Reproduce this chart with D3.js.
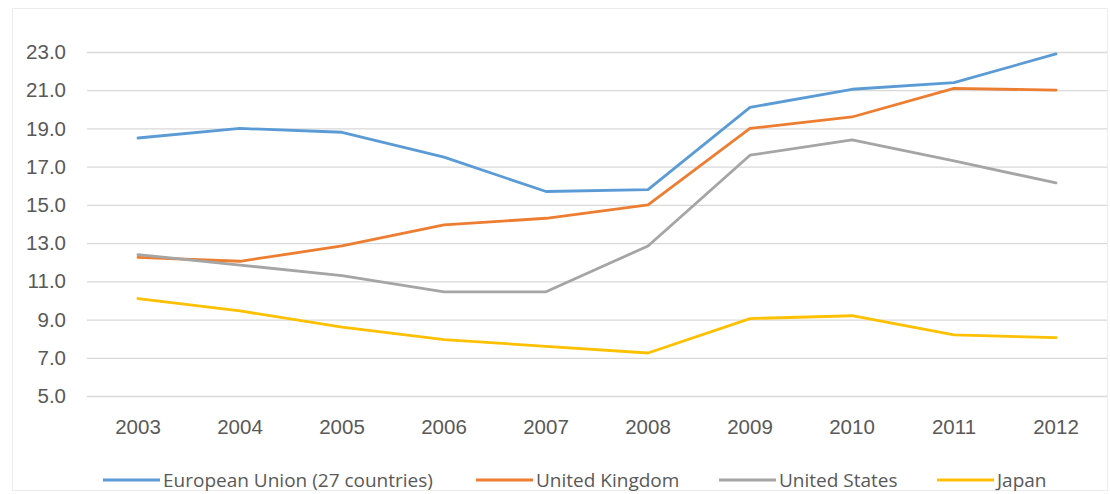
<!DOCTYPE html>
<html>
<head>
<meta charset="utf-8">
<script src="https://cdn.jsdelivr.net/npm/d3@7"></script>
<style>
  html, body { margin: 0; padding: 0; background: #fff; }
  svg { display: block; font-family: "Open Sans", Lato, sans-serif; }
</style>
</head>
<body>
<svg id="chart" width="1110" height="494"></svg>
<script>
const years = ["2003","2004","2005","2006","2007","2008","2009","2010","2011","2012"];
const euValues = [18.5, 19.0, 18.8, 17.5, 15.7, 15.8, 20.1, 21.05, 21.4, 22.9];
const ukValues = [12.25, 12.05, 12.85, 13.95, 14.3, 15.0, 19.0, 19.6, 21.1, 21.0];
const usValues = [12.4, 11.85, 11.3, 10.45, 10.45, 12.85, 17.6, 18.4, 17.3, 16.15];
const jpValues = [10.1, 9.45, 8.6, 7.95, 7.6, 7.25, 9.05, 9.2, 8.2, 8.05];
const seriesNames = ["European Union (27 countries)", "United Kingdom", "United States", "Japan"];
const seriesColors = ["#5B9BD5", "#ED7D31", "#A5A5A5", "#FFC000"];
const yTicks = [5, 7, 9, 11, 13, 15, 17, 19, 21, 23];

const series = [euValues, ukValues, usValues, jpValues].map((v, i) => ({
  name: seriesNames[i], color: seriesColors[i], values: v
}));

const svg = d3.select("#chart");

// chart frame
svg.append("rect")
  .attr("x", 12.5).attr("y", 8.5).attr("width", 1095).attr("height", 482)
  .attr("fill", "none").attr("stroke", "#ececec").attr("stroke-width", 1);

const plot = { left: 87, right: 1107, top: 52, bottom: 396 };

const x = d3.scaleBand().domain(years).range([plot.left, plot.right]);
const y = d3.scaleLinear().domain([5, 23]).range([plot.bottom, plot.top]);

// horizontal gridlines + y labels
const yAxis = d3.axisLeft(y).tickValues(yTicks).tickFormat(d3.format(".1f"))
  .tickSize(-(plot.right - plot.left)).tickPadding(21);
const gy = svg.append("g").attr("transform", `translate(${plot.left},0)`).call(yAxis);
gy.select(".domain").remove();
gy.selectAll(".tick line").attr("stroke", "#d9d9d9").attr("stroke-width", 1.3);
gy.selectAll(".tick text").attr("fill", "#595959").attr("font-size", 20.5);

// x labels
const xAxis = d3.axisBottom(x).tickSize(0).tickPadding(23);
const gx = svg.append("g").attr("transform", `translate(0,${plot.bottom})`).call(xAxis);
gx.select(".domain").remove();
gx.selectAll(".tick text").attr("fill", "#595959").attr("font-size", 20.5);

const line = d3.line()
  .x((d, i) => x(years[i]) + x.bandwidth() / 2)
  .y(d => y(d));

svg.append("g").selectAll("path").data(series).join("path")
  .attr("d", d => line(d.values))
  .attr("fill", "none")
  .attr("stroke", d => d.color)
  .attr("stroke-width", 2.8)
  .attr("stroke-linejoin", "round")
  .attr("stroke-linecap", "round");

// legend
const legendX = [103, 476, 719, 937];
const lg = svg.append("g").selectAll("g").data(series).join("g")
  .attr("transform", (d, i) => `translate(${legendX[i]},480)`);
lg.append("line").attr("x1", 0).attr("x2", 57).attr("y1", 0).attr("y2", 0)
  .attr("stroke", d => d.color).attr("stroke-width", 2.8);
lg.append("text").attr("x", 60).attr("y", 0).attr("dy", "0.35em")
  .attr("fill", "#595959").attr("font-size", 19).text(d => d.name);
</script>
</body>
</html>
